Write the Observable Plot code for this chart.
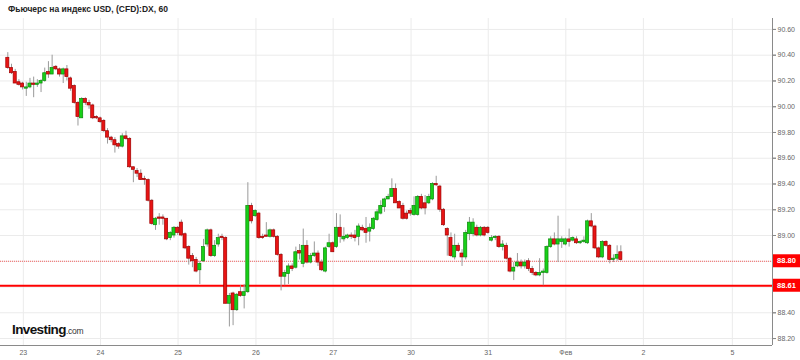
<!DOCTYPE html>
<html><head><meta charset="utf-8">
<script src="https://cdn.jsdelivr.net/npm/d3@7"></script>
<script src="https://cdn.jsdelivr.net/npm/@observablehq/plot@0.6"></script>
<style>
body{margin:0;background:#fff;font-family:"Liberation Sans",Arial,sans-serif;}
#wrap{position:relative;width:800px;height:360px;overflow:hidden;}
#title{height:18px;font-weight:bold;font-size:8.5px;color:#222;padding-left:8px;line-height:18px;}
#logo{position:absolute;left:12px;top:322px;line-height:14px;white-space:nowrap;}
#logo .a{font-weight:bold;font-size:13.5px;letter-spacing:-0.6px;color:#111;}
#logo .b{font-size:8.5px;color:#333;letter-spacing:-0.2px;}
</style></head>
<body>
<div id="wrap">
<div id="title">Фьючерс на индекс USD, (CFD):DX, 60</div>
<div id="chart"></div>
<div id="logo"><span class="a">Investing</span><span class="b">.com</span></div>
</div>
<script>
const open = [90.38,90.30,90.27,90.19,90.18,90.14,90.15,90.18,90.17,90.18,90.20,90.27,90.25,90.31,90.29,90.25,90.29,90.22,90.16,90.03,
89.91,90.06,90.03,90.01,89.92,89.91,89.89,89.81,89.76,89.74,89.71,89.69,89.77,89.75,89.53,89.50,89.48,89.44,89.43,89.27,
89.08,89.14,89.14,89.13,88.98,89.00,89.06,89.10,89.01,88.91,88.84,88.81,88.73,88.80,88.93,89.04,88.84,88.93,88.99,88.98,
88.47,88.55,88.42,88.56,88.53,88.56,89.23,89.15,89.17,88.99,89.00,88.99,89.04,88.99,88.85,88.68,88.70,88.76,88.75,88.88,
88.78,88.92,88.79,88.84,88.86,88.79,88.72,88.91,88.94,88.91,89.06,88.97,88.98,89.00,89.00,88.99,89.06,89.05,89.03,89.05,
89.12,89.17,89.22,89.28,89.30,89.36,89.26,89.23,89.17,89.19,89.16,89.16,89.30,89.25,89.25,89.28,89.40,89.38,89.20,89.05,
88.98,88.83,88.92,88.86,88.83,89.01,89.01,89.06,89.00,89.06,89.06,88.96,88.98,88.99,88.91,88.92,88.82,88.72,88.76,88.79,
88.76,88.80,88.74,88.71,88.69,88.71,88.71,88.91,88.97,88.93,88.95,88.93,88.97,88.96,88.97,88.94,88.95,88.94,89.11,89.07,
88.90,88.83,88.95,88.92,88.81,88.82,88.87];
const high = [90.42,90.33,90.29,90.21,90.19,90.19,90.22,90.23,90.21,90.21,90.30,90.35,90.40,90.32,90.30,90.30,90.32,90.23,90.17,90.04,
90.07,90.07,90.05,90.02,89.93,89.92,89.90,89.83,89.77,89.76,89.72,89.79,89.81,89.76,89.53,89.52,89.51,89.46,89.44,89.28,
89.14,89.17,89.16,89.13,89.03,89.07,89.07,89.12,89.02,88.92,88.86,88.83,88.80,88.97,89.05,89.05,88.96,89.01,89.01,88.99,
88.55,88.56,88.55,88.61,88.62,89.41,89.25,89.20,89.18,89.01,89.10,89.05,89.05,89.00,88.86,88.73,88.78,88.78,88.91,88.93,
89.05,88.96,88.86,88.95,88.88,88.81,88.91,89.01,88.95,89.17,89.16,89.06,89.01,89.02,89.04,89.09,89.08,89.14,89.09,89.14,
89.20,89.27,89.29,89.32,89.44,89.40,89.27,89.25,89.19,89.21,89.30,89.31,89.32,89.31,89.32,89.41,89.46,89.39,89.21,89.06,
89.02,89.01,88.94,88.89,89.04,89.14,89.13,89.08,89.07,89.07,89.07,89.00,89.00,89.00,88.96,88.94,88.83,88.79,88.86,88.81,
88.81,88.82,88.76,88.72,88.82,88.74,88.92,88.99,89.02,89.15,88.99,88.98,89.05,88.99,88.99,88.96,88.99,89.12,89.17,89.08,
88.91,88.96,88.96,88.93,88.85,88.92,88.92];
const low = [90.29,90.25,90.18,90.16,90.13,90.08,90.14,90.07,90.15,90.11,90.19,90.22,90.25,90.28,90.23,90.18,90.20,90.12,90.02,89.85,
89.91,90.01,89.98,89.90,89.90,89.87,89.80,89.71,89.72,89.64,89.67,89.68,89.74,89.52,89.41,89.45,89.43,89.39,89.26,89.08,
89.04,89.08,89.08,88.96,88.96,88.98,89.00,88.99,88.89,88.77,88.75,88.71,88.62,88.79,88.91,88.83,88.83,88.91,88.96,88.47,
88.29,88.30,88.41,88.52,88.43,88.55,89.09,89.14,88.97,88.97,88.99,88.98,88.98,88.84,88.57,88.61,88.62,88.72,88.74,88.81,
88.75,88.78,88.78,88.83,88.76,88.72,88.71,88.90,88.87,88.90,88.94,88.95,88.97,88.97,88.95,88.92,89.03,88.94,88.95,89.04,
89.11,89.16,89.18,89.28,89.30,89.25,89.21,89.12,89.12,89.15,89.15,89.15,89.20,89.16,89.24,89.27,89.38,89.18,89.07,88.84,
88.83,88.81,88.87,88.76,88.81,88.96,88.99,88.99,88.99,88.99,89.01,88.95,88.96,88.90,88.88,88.81,88.71,88.65,88.75,88.74,
88.74,88.72,88.69,88.68,88.68,88.61,88.70,88.90,88.92,88.79,88.90,88.92,88.91,88.95,88.93,88.93,88.94,88.93,89.06,88.89,
88.82,88.82,88.91,88.78,88.79,88.80,88.80];
const close = [90.30,90.26,90.18,90.17,90.15,90.15,90.18,90.17,90.18,90.20,90.26,90.25,90.30,90.29,90.25,90.29,90.23,90.14,90.03,89.92,
90.06,90.03,90.01,89.91,89.91,89.88,89.81,89.76,89.74,89.70,89.69,89.77,89.75,89.53,89.51,89.48,89.43,89.43,89.27,89.09,
89.13,89.13,89.13,88.97,89.02,89.06,89.02,89.00,88.90,88.82,88.80,88.72,88.78,88.91,89.04,88.84,88.92,88.98,88.98,88.47,
88.53,88.42,88.54,88.53,88.56,89.23,89.11,89.19,88.98,88.98,88.99,89.04,88.99,88.85,88.68,88.71,88.76,88.74,88.87,88.86,
88.92,88.79,88.84,88.86,88.79,88.73,88.90,88.94,88.87,89.06,88.99,88.99,89.00,88.99,88.98,89.07,89.04,89.02,89.06,89.13,
89.18,89.23,89.28,89.30,89.36,89.25,89.21,89.13,89.13,89.17,89.23,89.30,89.21,89.21,89.30,89.40,89.39,89.20,89.08,89.00,
88.84,88.92,88.88,88.83,89.02,89.10,89.10,89.00,89.06,89.00,89.02,88.98,88.99,88.91,88.93,88.82,88.72,88.75,88.79,88.76,
88.79,88.74,88.71,88.69,88.71,88.72,88.91,88.97,88.93,88.97,88.97,88.97,88.95,88.98,88.94,88.95,88.96,89.11,89.07,88.90,
88.83,88.95,88.92,88.81,88.82,88.85,88.81];

const dayTicks  = [4.2, 25.1, 46.1, 67.2, 88.1, 109.2, 130.1, 151.1, 172.1, 196.2];
const dayLabels = ["23","24","25","26","27","30","31","Фев","2","5"];
const priceTicks = [88.2,88.4,88.6,88.8,89.0,89.2,89.4,89.6,89.8,90.0,90.2,90.4,90.6];
const levels = [88.80, 88.61];
const xDomain = [-1.98, 207.07];
const yDomain = [88.146, 90.685];

const data = open.map((o, i) => ({i, o, h: high[i], l: low[i], c: close[i]}));
const fmt = d3.format(".2f");
// tick labels hidden behind a level box are left out of the axis text
const labelTicks = priceTicks.filter(t => levels.every(v => Math.abs(v - t) > 0.03));

const chart = Plot.plot({
  width: 800, height: 342,
  marginTop: 0, marginBottom: 15, marginLeft: 0, marginRight: 28,
  x: {domain: xDomain, label: null},
  y: {domain: yDomain, label: null},
  style: {fontFamily: "'Liberation Sans', Arial, sans-serif", fontSize: "7px", color: "#666", background: "#fff"},
  marks: [
    Plot.gridY(priceTicks, {stroke: "#ebebeb", strokeOpacity: 1}),
    Plot.gridX(dayTicks, {stroke: "#ebebeb", strokeOpacity: 1}),
    Plot.ruleY([levels[0]], {stroke: "#f46060", strokeDasharray: "1,1", strokeWidth: 1}),
    Plot.ruleY([levels[1]], {stroke: "#ff0000", strokeWidth: 2}),
    Plot.ruleX(data, {x: "i", y1: "l", y2: "h", stroke: "#9a9a9a", strokeWidth: 1}),
    Plot.rect(data, {
      x1: d => d.i - 0.42, x2: d => d.i + 0.42, y1: "o", y2: "c",
      fill: d => d.c >= d.o ? "#18d018" : "#e81414",
      stroke: d => d.c >= d.o ? "#0a8a0a" : "#a00000",
      strokeWidth: 0.7
    }),
    Plot.ruleX([xDomain[1]], {stroke: "#8a8a8a"}),
    Plot.ruleY([yDomain[0]], {stroke: "#8a8a8a"}),
    Plot.axisY(priceTicks, {anchor: "right", tickSize: 3, text: null, label: null, stroke: "#8a8a8a"}),
    Plot.axisY(labelTicks, {anchor: "right", tickFormat: fmt, tickSize: 3, tickPadding: 2, label: null, stroke: "#8a8a8a"}),
    Plot.axisX(dayTicks, {tickFormat: (d, k) => dayLabels[k], tickSize: 0, tickPadding: 5, label: null})
  ]
});
document.getElementById("chart").appendChild(chart);

// price-level labels on the right axis, placed with the plot's own y scale
const ys = chart.scale("y");
const g = d3.select(chart).append("g");
levels.forEach(v => {
  const y = ys.apply(v);
  g.append("rect").attr("x", 773).attr("y", y - 6.5).attr("width", 27).attr("height", 13).attr("fill", "#ff0000");
  g.append("text").attr("x", 786.5).attr("y", y).attr("dy", "0.35em").attr("text-anchor", "middle")
    .attr("fill", "#fff").attr("font-weight", "bold").attr("font-size", "7.5px").text(fmt(v));
});
</script>
</body></html>
